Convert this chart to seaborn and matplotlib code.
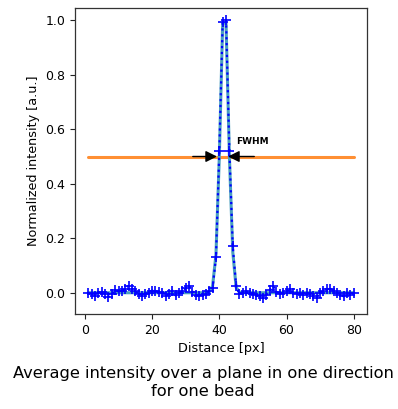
import matplotlib
matplotlib.use("Agg")
import matplotlib.pyplot as plt
import seaborn as sns
import pandas as pd

# ---- data ----
distance = list(range(1, 81))
intensity = [
    0.000, -0.005, -0.012, 0.000, 0.004, -0.003, -0.015, -0.004, 0.010, 0.005,
    0.008, 0.014, 0.026, 0.015, 0.005, -0.004, -0.012, -0.006, 0.000, 0.008,
    0.006, 0.003, 0.000, -0.012, -0.005, 0.008, -0.010, -0.002, 0.006, 0.016,
    0.024, 0.004, -0.008, -0.012, -0.010, -0.004, 0.006, 0.018, 0.130, 0.520,
    0.995, 1.000, 0.520, 0.170, 0.025, -0.006, 0.000, 0.006, -0.002, -0.005,
    -0.010, -0.013, -0.020, -0.008, 0.010, 0.024, 0.003, -0.005, 0.000, 0.006,
    0.012, 0.000, -0.005, -0.002, -0.008, 0.000, -0.005, -0.013, -0.018, 0.000,
    0.006, 0.012, 0.015, 0.006, 0.000, -0.008, -0.013, -0.002, -0.008, 0.000,
]
fit = [
    0.0, 0.0, 0.0, 0.0, 0.0, 0.0, 0.0, 0.0, 0.0, 0.0,
    0.0, 0.0, 0.0, 0.0, 0.0, 0.0, 0.0, 0.0, 0.0, 0.0,
    0.0, 0.0, 0.0, 0.0, 0.0, 0.0, 0.0, 0.0, 0.0, 0.0,
    0.0, 0.0, 0.0, 0.0, 0.0, 0.0, 0.003, 0.025, 0.140, 0.500,
    0.990, 0.990, 0.500, 0.150, 0.020, 0.002, 0.0, 0.0, 0.0, 0.0,
    0.0, 0.0, 0.0, 0.0, 0.0, 0.0, 0.0, 0.0, 0.0, 0.0,
    0.0, 0.0, 0.0, 0.0, 0.0, 0.0, 0.0, 0.0, 0.0, 0.0,
    0.0, 0.0, 0.0, 0.0, 0.0, 0.0, 0.0, 0.0, 0.0, 0.0,
]
half_max_x = [1, 80]
half_max_y = [0.5, 0.5]
fwhm_left = 39.3
fwhm_right = 42.6
x_ticks = [0, 20, 40, 60, 80]
y_ticks = [0.0, 0.2, 0.4, 0.6, 0.8, 1.0]
x_label = "Distance [px]"
y_label = "Normalized intensity [a.u.]"
caption = "Average intensity over a plane in one direction\nfor one bead"

df = pd.DataFrame({"distance": distance, "intensity": intensity, "fit": fit})
hm = pd.DataFrame({"x": half_max_x, "y": half_max_y})

sns.set_style("ticks")
plt.rcParams["font.family"] = ["DejaVu Sans"]
plt.rcParams["text.color"] = "black"
plt.rcParams["axes.labelcolor"] = "black"

fig = plt.figure(figsize=(3.98, 4.09), dpi=100)
ax = fig.add_axes([75 / 398, 1 - 314 / 409, (367 - 75) / 398, (314 - 8) / 409])

sns.lineplot(data=hm, x="x", y="y", ax=ax, color="#ff8f33", linewidth=2.2)
sns.lineplot(data=df, x="distance", y="fit", ax=ax, color="#4a9fbf", linewidth=2.2)
sns.lineplot(data=df, x="distance", y="intensity", ax=ax, color="#0000ff",
             linestyle=":", linewidth=1.6, marker="+", markersize=7,
             markeredgewidth=1.2, markeredgecolor="#0000ff")

ax.annotate("", xy=(fwhm_left, 0.5), xytext=(fwhm_left - 7.2, 0.5),
            arrowprops=dict(arrowstyle="-|>", color="black", lw=1.0,
                            mutation_scale=17, shrinkA=0, shrinkB=0))
ax.annotate("", xy=(fwhm_right, 0.5), xytext=(fwhm_right + 7.8, 0.5),
            arrowprops=dict(arrowstyle="-|>", color="black", lw=1.0,
                            mutation_scale=17, shrinkA=0, shrinkB=0))
ax.text(45.0, 0.555, "FWHM", fontsize=6.5, fontweight="bold", ha="left", va="center")

ax.set_xticks(x_ticks)
ax.set_yticks(y_ticks)
ax.set_yticklabels([f"{v:.1f}" for v in y_ticks])
ax.set_xlim(-2.95, 83.95)
ax.set_ylim(-0.078, 1.045)
ax.tick_params(labelsize=9, length=3.5, width=0.8, colors="#222222", labelcolor="black")
ax.set_xlabel(x_label, fontsize=9.3)
ax.set_ylabel(y_label, fontsize=9.2)
for s in ax.spines.values():
    s.set_visible(True)
    s.set_color("#333333")
    s.set_linewidth(0.9)

fig.text(203 / 398, 1 - 366 / 409, caption, ha="center", va="top", fontsize=11.7,
         linespacing=1.22)

fig.savefig("out.png", dpi=100)
